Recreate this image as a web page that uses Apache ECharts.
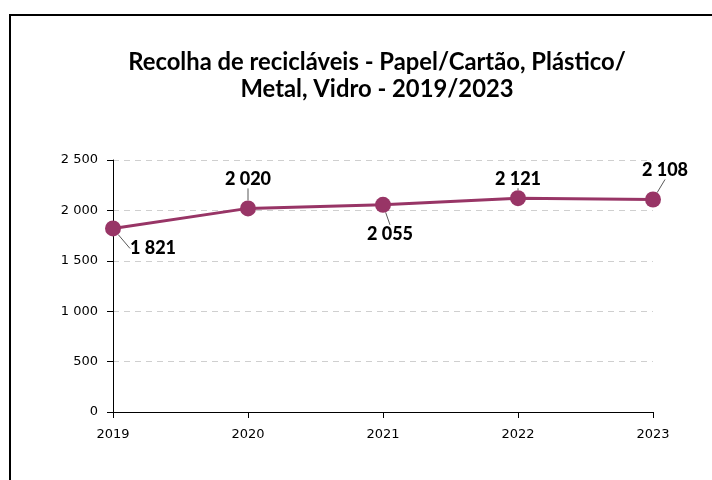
<!DOCTYPE html>
<html>
<head>
<meta charset="utf-8">
<script src="https://cdn.jsdelivr.net/npm/echarts@6/dist/echarts.min.js"></script>
<style>
  html, body { margin: 0; padding: 0; background: #fff; }
  #chart { width: 712px; height: 480px; }
</style>
</head>
<body>
<div id="chart"></div>
<script>
// Data
const years = ['2019', '2020', '2021', '2022', '2023'];
const recolha = [1821, 2020, 2055, 2121, 2108];
// label offsets (dx, dy) relative to point, per year
const labelOffsets = [[40, 20], [0, -29], [7, 29], [0, -19], [12, -29]];

const fmt = v => String(v).replace(/\B(?=(\d{3})+(?!\d))/g, ' ');
const lineColor = '#983566';

const chart = echarts.init(document.getElementById('chart'));

chart.setOption({
  animation: false,
  backgroundColor: '#fff',
  title: {
    text: 'Recolha de recicláveis - Papel/Cartão, Plástico/\nMetal, Vidro - 2019/2023',
    left: 372,
    top: 44,
    textAlign: 'center',
    textStyle: {
      fontFamily: 'Lato',
      fontWeight: 'bold',
      fontSize: 23.8,
      lineHeight: 27,
      color: '#000'
    }
  },
  graphic: [{
    type: 'rect',
    shape: { x: 10, y: 15, width: 900, height: 700 },
    style: { fill: 'none', stroke: '#000', lineWidth: 2 },
    silent: true
  }],
  grid: { left: 113, right: 59, top: 160, bottom: 68 },
  xAxis: {
    type: 'category',
    data: years,
    boundaryGap: false,
    axisLine: { lineStyle: { color: '#000', width: 1 } },
    axisTick: { show: true, length: 6, lineStyle: { color: '#000' } },
    axisLabel: { color: '#000', fontFamily: 'DejaVu Sans', fontSize: 13, margin: 16 },
    splitLine: { show: false }
  },
  yAxis: {
    type: 'value',
    min: 0,
    max: 2500,
    interval: 500,
    axisLine: { show: true, lineStyle: { color: '#000', width: 1 } },
    axisTick: { show: true, length: 6, lineStyle: { color: '#000' } },
    axisLabel: { color: '#000', fontFamily: 'DejaVu Sans', fontSize: 13, margin: 15, formatter: fmt },
    splitLine: { lineStyle: { color: '#cfcfcf', type: [6, 5] } }
  },
  series: [{
    type: 'line',
    data: recolha,
    symbol: 'circle',
    symbolSize: 16,
    lineStyle: { color: lineColor, width: 3 },
    itemStyle: { color: lineColor },
    label: {
      show: true,
      position: 'inside',
      formatter: p => fmt(p.value),
      fontFamily: 'Lato',
      fontWeight: 900,
      fontSize: 18,
      color: '#000'
    },
    labelLine: { show: true, lineStyle: { color: '#595959', width: 1 } },
    labelLayout: params => {
      const o = labelOffsets[params.dataIndex];
      return { dx: o[0], dy: o[1] };
    }
  }]
});
</script>
</body>
</html>
